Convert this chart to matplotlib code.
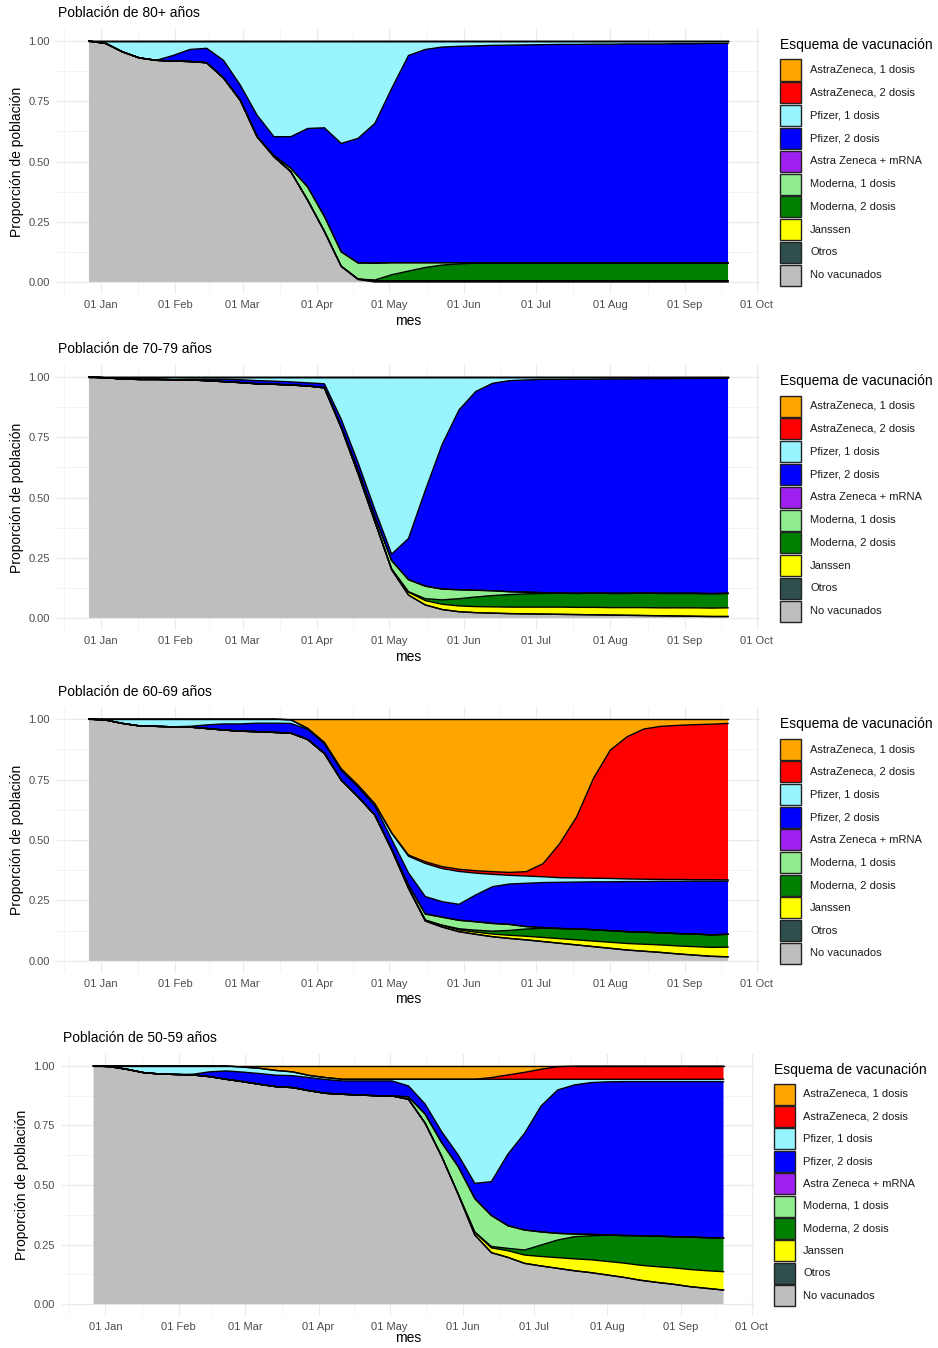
import matplotlib
matplotlib.use("Agg")
import matplotlib.pyplot as plt
from matplotlib.patches import Rectangle
import numpy as np
import pandas as pd

plt.rcParams['font.family'] = ['Liberation Sans', 'DejaVu Sans']

# weekly snapshots, 27 Dec 2020 .. 19 Sep 2021
dates = pd.date_range("2020-12-27", periods=39, freq="7D")

categories = ["AstraZeneca, 1 dosis", "AstraZeneca, 2 dosis", "Pfizer, 1 dosis",
              "Pfizer, 2 dosis", "Astra Zeneca + mRNA", "Moderna, 1 dosis",
              "Moderna, 2 dosis", "Janssen", "Otros", "No vacunados"]
colors = ["#FFA500", "#FF0000", "#98F5FF", "#0000FF", "#A020F0", "#90EE90",
          "#008000", "#FFFF00", "#2F4F4F", "#BEBEBE"]

# ---- 80+ ----
g80_no_vac = [1.0, 0.99, 0.955, 0.93, 0.92, 0.917, 0.915, 0.91, 0.847, 0.754, 0.603, 0.52, 0.458,
              0.34, 0.21, 0.065, 0.01, 0, 0, 0, 0, 0, 0, 0, 0, 0, 0, 0, 0, 0, 0, 0, 0, 0, 0, 0, 0, 0, 0]
g80_otros = [0, 0, 0, 0, 0, 0, 0, 0, 0, 0, 0, 0, 0, 0, 0, 0, 0.002, 0.005, 0.005, 0.005, 0.005,
             0.005, 0.005, 0.005, 0.005, 0.005, 0.005, 0.005, 0.005, 0.005, 0.005, 0.005, 0.005,
             0.005, 0.005, 0.005, 0.005, 0.005, 0.005]
g80_mod2 = [0, 0, 0, 0, 0, 0, 0, 0, 0, 0, 0, 0, 0, 0, 0, 0, 0, 0.003, 0.025, 0.04, 0.055, 0.065,
            0.07, 0.073, 0.074, 0.074, 0.074, 0.074, 0.074, 0.074, 0.074, 0.074, 0.074, 0.074,
            0.074, 0.074, 0.074, 0.074, 0.074]
g80_mod1 = [0, 0, 0, 0, 0, 0, 0, 0, 0, 0, 0, 0.005, 0.014, 0.055, 0.062, 0.06, 0.067, 0.07, 0.05,
            0.035, 0.02, 0.01, 0.005, 0.002, 0, 0, 0, 0, 0, 0, 0, 0, 0, 0, 0, 0, 0, 0, 0]
g80_pf2 = [0, 0, 0, 0, 0, 0.023, 0.05, 0.06, 0.073, 0.063, 0.089, 0.078, 0.131, 0.242, 0.368,
           0.45, 0.517, 0.58, 0.723, 0.86, 0.885, 0.895, 0.898, 0.90, 0.903, 0.904, 0.905, 0.906,
           0.907, 0.907, 0.908, 0.908, 0.909, 0.909, 0.909, 0.91, 0.91, 0.911, 0.911]
g80_pf1 = [0, 0.01, 0.045, 0.07, 0.08, 0.06, 0.035, 0.03, 0.08, 0.183, 0.308, 0.397, 0.397, 0.363,
           0.36, 0.425, 0.404, 0.342, 0.197, 0.06, 0.035, 0.025, 0.022, 0.02, 0.018, 0.017, 0.016,
           0.015, 0.014, 0.014, 0.013, 0.013, 0.012, 0.012, 0.012, 0.011, 0.011, 0.01, 0.01]

# ---- 70-79 ----
g70_no_vac = [1.0, 0.997, 0.992, 0.99, 0.99, 0.989, 0.988, 0.985, 0.981, 0.977, 0.972, 0.97, 0.967,
              0.963, 0.955, 0.79, 0.60, 0.40, 0.20, 0.095, 0.054, 0.035, 0.026, 0.022, 0.02, 0.018,
              0.017, 0.016, 0.015, 0.014, 0.013, 0.012, 0.011, 0.01, 0.009, 0.008, 0.007, 0.006, 0.006]
g70_janssen = [0, 0, 0, 0, 0, 0, 0, 0, 0, 0, 0, 0, 0, 0, 0, 0, 0, 0, 0.003, 0.012, 0.018, 0.022,
               0.024, 0.025, 0.026, 0.027, 0.028, 0.029, 0.03, 0.03, 0.031, 0.031, 0.032, 0.033,
               0.033, 0.034, 0.035, 0.035, 0.036]
g70_mod2 = [0, 0, 0, 0, 0, 0, 0, 0, 0, 0, 0, 0, 0, 0, 0, 0, 0, 0, 0, 0.002, 0.008, 0.018, 0.03,
            0.04, 0.047, 0.052, 0.055, 0.057, 0.058, 0.058, 0.059, 0.059, 0.059, 0.06, 0.06, 0.06,
            0.06, 0.06, 0.06]
g70_mod1 = [0, 0, 0, 0, 0, 0, 0, 0, 0, 0, 0, 0, 0, 0, 0.002, 0.005, 0.015, 0.02, 0.035, 0.05, 0.052,
            0.045, 0.037, 0.028, 0.02, 0.012, 0.007, 0.003, 0, 0, 0, 0, 0, 0, 0, 0, 0, 0, 0]
g70_pf2 = [0, 0, 0, 0, 0, 0, 0.003, 0.006, 0.01, 0.012, 0.013, 0.013, 0.013, 0.013, 0.015, 0.03,
           0.03, 0.03, 0.027, 0.171, 0.398, 0.60, 0.746, 0.825, 0.861, 0.876, 0.881, 0.885, 0.887,
           0.889, 0.888, 0.89, 0.89, 0.89, 0.891, 0.892, 0.892, 0.894, 0.893]
g70_pf1 = [0, 0.003, 0.008, 0.01, 0.01, 0.011, 0.009, 0.009, 0.009, 0.011, 0.015, 0.017, 0.02, 0.024,
           0.028, 0.175, 0.355, 0.55, 0.735, 0.67, 0.47, 0.28, 0.137, 0.06, 0.026, 0.015, 0.012,
           0.01, 0.01, 0.009, 0.009, 0.008, 0.008, 0.007, 0.007, 0.006, 0.006, 0.005, 0.005]

# ---- 60-69 ----
g60_no_vac = [1.0, 0.996, 0.982, 0.972, 0.97, 0.968, 0.967, 0.961, 0.955, 0.95, 0.948, 0.945, 0.942,
              0.916, 0.858, 0.748, 0.679, 0.603, 0.46, 0.30, 0.165, 0.14, 0.121, 0.11, 0.10, 0.093,
              0.087, 0.08, 0.073, 0.066, 0.059, 0.052, 0.045, 0.04, 0.035, 0.029, 0.024, 0.019, 0.017]
g60_janssen = [0, 0, 0, 0, 0, 0, 0, 0, 0, 0, 0, 0, 0, 0, 0, 0, 0, 0, 0, 0.002, 0.004, 0.006, 0.007,
               0.009, 0.011, 0.013, 0.015, 0.017, 0.019, 0.021, 0.023, 0.025, 0.027, 0.029, 0.031,
               0.033, 0.035, 0.037, 0.04]
g60_mod2 = [0, 0, 0, 0, 0, 0, 0, 0, 0, 0, 0, 0, 0, 0, 0, 0, 0, 0, 0, 0, 0, 0.002, 0.005, 0.008,
            0.012, 0.02, 0.03, 0.038, 0.042, 0.045, 0.047, 0.048, 0.049, 0.05, 0.05, 0.051, 0.052,
            0.052, 0.053]
g60_mod1 = [0, 0, 0, 0, 0, 0, 0, 0, 0, 0, 0, 0, 0, 0, 0, 0, 0, 0, 0.003, 0.012, 0.025, 0.033, 0.035,
            0.035, 0.032, 0.025, 0.01, 0.003, 0, 0, 0, 0, 0, 0, 0, 0, 0, 0, 0]
g60_pf2 = [0, 0, 0, 0, 0, 0, 0.003, 0.015, 0.025, 0.03, 0.035, 0.038, 0.04, 0.042, 0.04, 0.04, 0.04,
           0.038, 0.04, 0.05, 0.072, 0.064, 0.066, 0.111, 0.152, 0.167, 0.179, 0.186, 0.191, 0.194,
           0.198, 0.202, 0.207, 0.209, 0.213, 0.216, 0.219, 0.222, 0.22]
g60_pf1 = [0, 0.004, 0.018, 0.028, 0.03, 0.032, 0.03, 0.024, 0.02, 0.02, 0.017, 0.017, 0.015, 0.004,
           0.005, 0.006, 0.007, 0.008, 0.025, 0.069, 0.137, 0.137, 0.136, 0.09, 0.051, 0.036, 0.03,
           0.024, 0.019, 0.017, 0.015, 0.014, 0.011, 0.01, 0.008, 0.008, 0.006, 0.006, 0.005]
g60_az2 = [0, 0, 0, 0, 0, 0, 0, 0, 0, 0, 0, 0, 0, 0, 0, 0, 0, 0.001, 0.002, 0.005, 0.007, 0.008,
           0.009, 0.01, 0.011, 0.012, 0.018, 0.054, 0.142, 0.253, 0.413, 0.531, 0.588, 0.621, 0.633,
           0.637, 0.641, 0.643, 0.647]
g60_az1 = [0, 0, 0, 0, 0, 0, 0, 0, 0, 0, 0, 0, 0.003, 0.038, 0.097, 0.206, 0.274, 0.35, 0.47, 0.562,
           0.59, 0.61, 0.621, 0.627, 0.631, 0.634, 0.631, 0.598, 0.514, 0.404, 0.245, 0.128, 0.073,
           0.041, 0.03, 0.026, 0.023, 0.021, 0.018]

# ---- 50-59 ----
g50_no_vac = [1.0, 0.997, 0.986, 0.972, 0.966, 0.964, 0.962, 0.955, 0.944, 0.934, 0.923, 0.913, 0.909,
              0.896, 0.885, 0.881, 0.878, 0.875, 0.874, 0.86, 0.76, 0.62, 0.46, 0.29, 0.216, 0.196,
              0.171, 0.16, 0.15, 0.14, 0.132, 0.122, 0.112, 0.10, 0.091, 0.083, 0.073, 0.066, 0.059]
g50_janssen = [0, 0, 0, 0, 0, 0, 0, 0, 0, 0, 0, 0, 0, 0, 0, 0, 0, 0, 0, 0, 0, 0, 0.002, 0.01, 0.02,
               0.028, 0.035, 0.04, 0.045, 0.05, 0.054, 0.057, 0.06, 0.063, 0.066, 0.069, 0.072,
               0.074, 0.077]
g50_mod2 = [0, 0, 0, 0, 0, 0, 0, 0, 0, 0, 0, 0, 0, 0, 0, 0, 0, 0, 0, 0, 0, 0, 0, 0.003, 0.006, 0.01,
            0.021, 0.048, 0.074, 0.093, 0.101, 0.11, 0.116, 0.124, 0.128, 0.131, 0.136, 0.139, 0.141]
g50_mod1 = [0, 0, 0, 0, 0, 0, 0, 0, 0, 0, 0, 0, 0, 0, 0, 0, 0, 0, 0, 0.01, 0.038, 0.058, 0.115,
            0.14, 0.13, 0.095, 0.084, 0.055, 0.028, 0.011, 0.006, 0.001, 0, 0, 0, 0, 0, 0, 0]
g50_pf2 = [0, 0, 0, 0, 0, 0, 0.003, 0.02, 0.035, 0.04, 0.045, 0.048, 0.05, 0.055, 0.058, 0.056,
           0.059, 0.062, 0.063, 0.046, 0.042, 0.046, 0.049, 0.064, 0.142, 0.301, 0.406, 0.529,
           0.602, 0.626, 0.637, 0.643, 0.646, 0.647, 0.649, 0.651, 0.653, 0.655, 0.657]
g50_pf1 = [0, 0.003, 0.014, 0.028, 0.034, 0.036, 0.035, 0.025, 0.021, 0.021, 0.022, 0.02, 0.016,
           0.009, 0.008, 0.007, 0.007, 0.007, 0.007, 0.028, 0.104, 0.22, 0.318, 0.437, 0.43, 0.314,
           0.227, 0.112, 0.045, 0.024, 0.014, 0.011, 0.01, 0.01, 0.01, 0.01, 0.01, 0.01, 0.01]
g50_az2 = [0, 0, 0, 0, 0, 0, 0, 0, 0, 0, 0, 0, 0, 0, 0, 0, 0, 0, 0, 0, 0, 0, 0, 0, 0.007, 0.018,
           0.029, 0.042, 0.053, 0.055, 0.055, 0.055, 0.055, 0.055, 0.055, 0.055, 0.055, 0.055, 0.055]
g50_az1 = [0, 0, 0, 0, 0, 0, 0, 0, 0, 0.005, 0.01, 0.019, 0.025, 0.04, 0.049, 0.056, 0.056, 0.056,
           0.056, 0.056, 0.056, 0.056, 0.056, 0.056, 0.049, 0.038, 0.027, 0.014, 0.003, 0.001,
           0.001, 0.001, 0.001, 0.001, 0.001, 0.001, 0.001, 0.001, 0.001]

W, H = 938, 1348
fig = plt.figure(figsize=(W / 100, H / 100), dpi=100)
fig.patch.set_facecolor("white")


def fx(x):
    return x / W


def fy(y):
    return 1 - y / H


panels = [
    dict(title="Población de 80+ años",
         data={"Pfizer, 1 dosis": g80_pf1, "Pfizer, 2 dosis": g80_pf2, "Moderna, 1 dosis": g80_mod1,
               "Moderna, 2 dosis": g80_mod2, "Otros": g80_otros, "No vacunados": g80_no_vac},
         box=(57, 760, 29, 294), title_xy=(58, 13), ylab_x=17, xlab_y=321,
         leg=(780, 45, 70, 22.8, 810)),
    dict(title="Población de 70-79 años",
         data={"Pfizer, 1 dosis": g70_pf1, "Pfizer, 2 dosis": g70_pf2, "Moderna, 1 dosis": g70_mod1,
               "Moderna, 2 dosis": g70_mod2, "Janssen": g70_janssen, "No vacunados": g70_no_vac},
         box=(57, 760, 365, 630), title_xy=(58, 349), ylab_x=17, xlab_y=657,
         leg=(780, 381, 406, 22.8, 810)),
    dict(title="Población de 60-69 años",
         data={"AstraZeneca, 1 dosis": g60_az1, "AstraZeneca, 2 dosis": g60_az2,
               "Pfizer, 1 dosis": g60_pf1, "Pfizer, 2 dosis": g60_pf2, "Moderna, 1 dosis": g60_mod1,
               "Moderna, 2 dosis": g60_mod2, "Janssen": g60_janssen, "No vacunados": g60_no_vac},
         box=(57, 760, 707, 973), title_xy=(58, 692), ylab_x=17, xlab_y=999,
         leg=(780, 724, 749, 22.7, 810)),
    dict(title="Población de 50-59 años",
         data={"AstraZeneca, 1 dosis": g50_az1, "AstraZeneca, 2 dosis": g50_az2,
               "Pfizer, 1 dosis": g50_pf1, "Pfizer, 2 dosis": g50_pf2, "Moderna, 1 dosis": g50_mod1,
               "Moderna, 2 dosis": g50_mod2, "Janssen": g50_janssen, "No vacunados": g50_no_vac},
         box=(62, 755, 1054, 1316), title_xy=(63, 1038), ylab_x=22, xlab_y=1338,
         leg=(774, 1070, 1094, 22.4, 803)),
]

month_starts = pd.date_range("2020-12-01", "2021-10-01", freq="MS")
major_x = month_starts[1:]
minor_x = [month_starts[k] + (month_starts[k + 1] - month_starts[k]) / 2 for k in range(len(month_starts) - 1)]
pad = pd.Timedelta(days=13.3)
zeros = np.zeros(len(dates))

for p in panels:
    l, r, t, b = p["box"]
    ax = fig.add_axes([fx(l), fy(b), fx(r) - fx(l), fy(t) - fy(b)])

    order = categories[::-1]
    vals = [np.array(p["data"].get(c, zeros), dtype=float) for c in order]
    cols = [colors[categories.index(c)] for c in order]
    ax.stackplot(dates, vals, colors=cols, linewidth=0, zorder=2)
    for top in np.cumsum(vals, axis=0):
        ax.plot(dates, top, color="black", lw=1.0, zorder=3)

    ax.set_xlim(dates[0] - pad, dates[-1] + pad)
    ax.set_ylim(-0.05, 1.05)
    ax.set_xticks(major_x)
    ax.set_xticklabels([d.strftime("%d %b") for d in major_x])
    ax.set_xticks(minor_x, minor=True)
    ax.set_yticks([0, 0.25, 0.5, 0.75, 1.0])
    ax.set_yticklabels(["0.00", "0.25", "0.50", "0.75", "1.00"])
    ax.set_yticks([0.125, 0.375, 0.625, 0.875], minor=True)
    ax.grid(which="major", color="#EBEBEB", lw=0.9)
    ax.grid(which="minor", color="#F3F3F3", lw=0.6)
    ax.set_axisbelow(True)
    for s in ax.spines.values():
        s.set_visible(False)
    ax.tick_params(which="both", length=0, labelsize=8, labelcolor="#4D4D4D")
    ax.tick_params(axis="y", pad=5)
    ax.tick_params(axis="x", pad=4)

    tx, ty = p["title_xy"]
    fig.text(fx(tx), fy(ty), p["title"], fontsize=10, ha="left", va="center")
    fig.text(fx((l + r) / 2), fy(p["xlab_y"]), "mes", fontsize=10, ha="center", va="center")
    yc = t + (b - t) / 2
    fig.text(fx(p["ylab_x"]), fy(yc), "Proporción de población", fontsize=10,
             rotation=90, ha="center", va="center")

    kx, title_y, row0, step, lab_x = p["leg"]
    fig.text(fx(kx), fy(title_y), "Esquema de vacunación", fontsize=10, ha="left", va="center")
    for k, (cat, col) in enumerate(zip(categories, colors)):
        yc = row0 + k * step
        fig.add_artist(Rectangle((fx(kx), fy(yc + 10.5)), 21 / W, 21 / H,
                                 transform=fig.transFigure, facecolor=col,
                                 edgecolor="#222222", lw=1.0))
        fig.text(fx(lab_x), fy(yc), cat, fontsize=8, ha="left", va="center", color="#1A1A1A")

fig.savefig("out.png", dpi=100, facecolor="white")
